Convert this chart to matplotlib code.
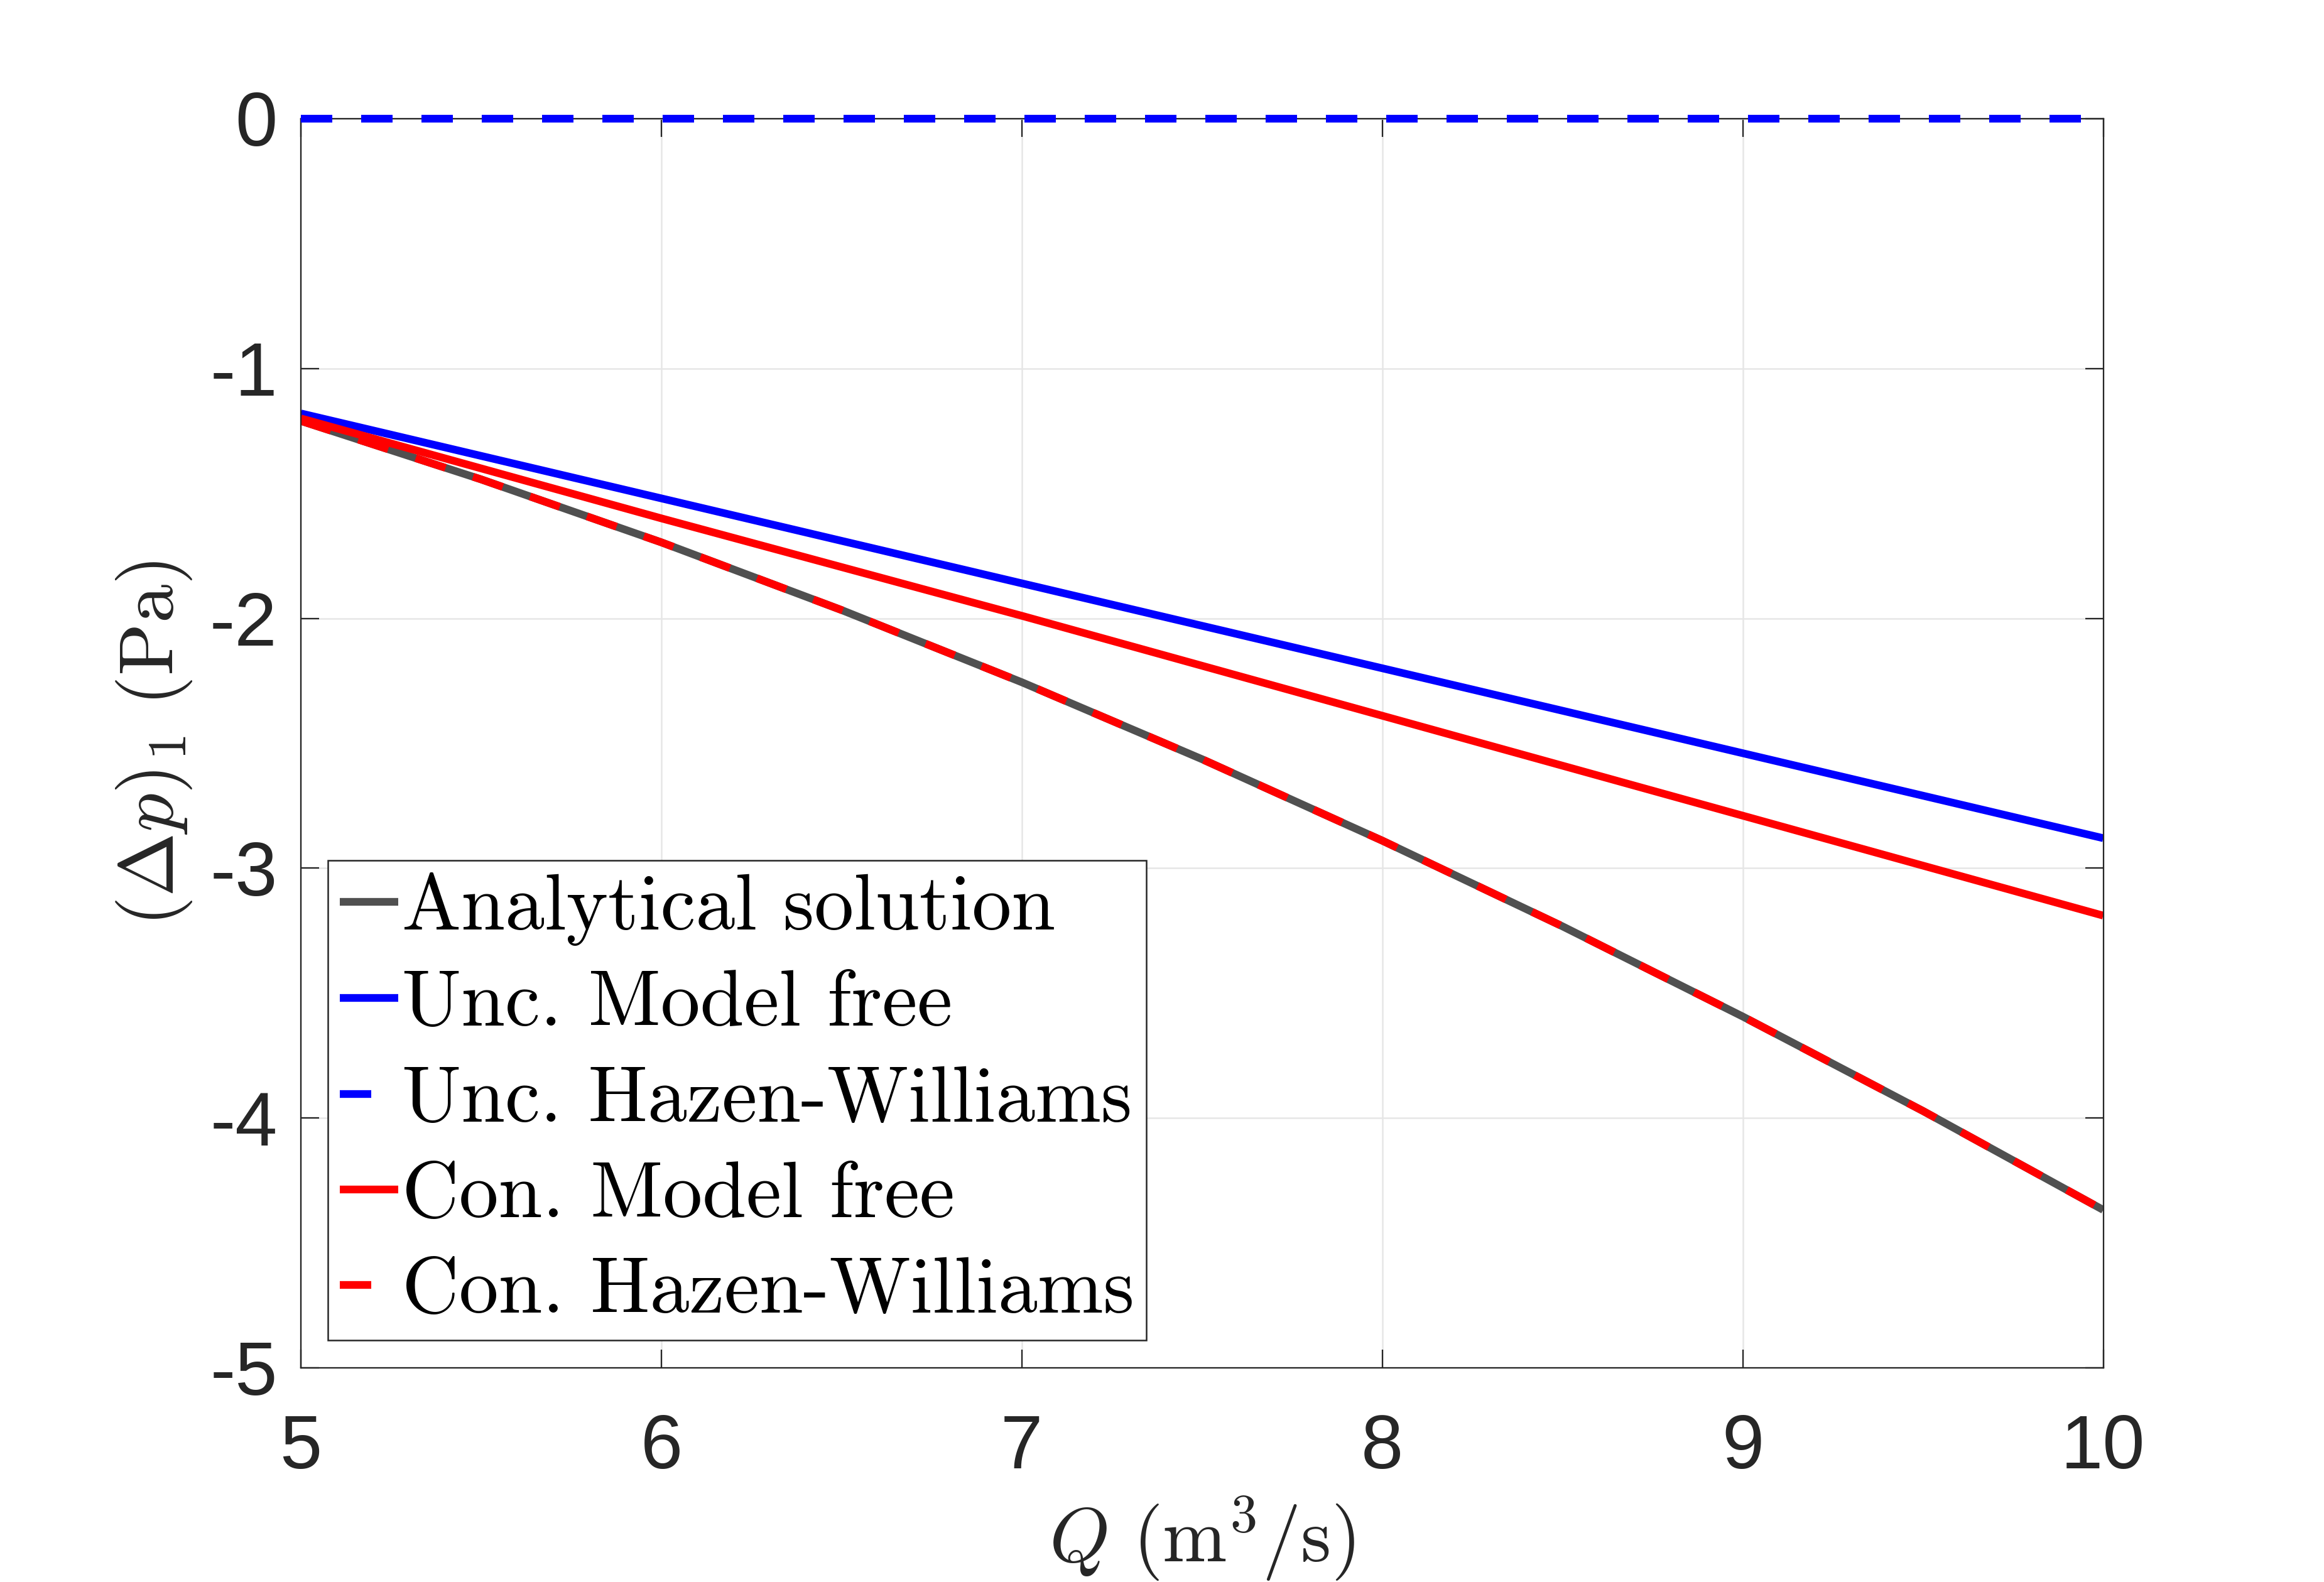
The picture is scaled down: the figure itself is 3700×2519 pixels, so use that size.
import numpy as np
import matplotlib
matplotlib.use("Agg")
import matplotlib.pyplot as plt

plt.rcParams['mathtext.fontset'] = 'cm'
plt.rcParams['axes.unicode_minus'] = False
plt.rcParams['font.family'] = ['Liberation Sans', 'DejaVu Sans']

# Data
Q_curve = [5.0, 5.5, 6.0, 6.5, 7.0, 7.5, 8.0, 8.5, 9.0, 9.5, 10.0]
dp_analytical = [-1.21, -1.444, -1.696, -1.967, -2.256, -2.564, -2.890, -3.233, -3.594, -3.972, -4.368]
dp_con_hw = dp_analytical  # overlaps analytical solution

Q_lin = [5, 6, 7, 8, 9, 10]
dp_unc_mf = [-1.18, -1.52, -1.86, -2.20, -2.54, -2.88]
dp_con_mf = [-1.20, -1.60, -1.99, -2.39, -2.79, -3.19]
dp_unc_hw = [0, 0, 0, 0, 0, 0]

labels = ['Analytical solution', 'Unc. Model free', 'Unc. Hazen-Williams',
          'Con. Model free', 'Con. Hazen-Williams']

gray = '#505050'
blue = '#0000ff'
red = '#ff0000'
axcol = '#262626'
lw = 2.95
dashed = (0, (4.07, 3.74))

fig = plt.figure(figsize=(3700/300, 2519/300), dpi=300)
ax = fig.add_axes([0.1295, 0.1354, 0.905 - 0.1295, 0.925 - 0.1354])

ax.plot(Q_curve, dp_analytical, color=gray, lw=lw, label=labels[0], solid_capstyle='butt')
ax.plot(Q_lin, dp_unc_mf, color=blue, lw=lw, label=labels[1], solid_capstyle='butt')
ax.plot(Q_lin, dp_unc_hw, color=blue, lw=lw, linestyle=dashed, label=labels[2],
        clip_on=False, zorder=3, dash_capstyle='butt')
ax.plot(Q_lin, dp_con_mf, color=red, lw=lw, label=labels[3], solid_capstyle='butt')
ax.plot(Q_curve, dp_con_hw, color=red, lw=lw, linestyle=dashed, label=labels[4],
        dash_capstyle='butt')

ax.set_xlim(5, 10)
ax.set_ylim(-5, 0)
ax.set_xticks([5, 6, 7, 8, 9, 10])
ax.set_yticks([-5, -4, -3, -2, -1, 0])

ax.grid(True, color='#e6e6e6', lw=0.6)
ax.set_axisbelow(True)
for s in ax.spines.values():
    s.set_color(axcol)
    s.set_linewidth(0.55)
ax.tick_params(direction='in', length=7, width=0.55, color=axcol, labelcolor=axcol,
               labelsize=29, top=True, right=True)
ax.tick_params(axis='y', pad=9)
ax.tick_params(axis='x', pad=17.5)

ax.set_xlabel(r'$Q\ (\mathrm{m}^3/\mathrm{s})$', fontsize=29.5, color=axcol, labelpad=4)
ax.set_ylabel(r'$(\Delta p)_1\ (\mathrm{Pa})$', fontsize=29.5, color=axcol, labelpad=6)

leg = ax.legend(loc='lower left', bbox_to_anchor=(0.015, 0.022), borderaxespad=0,
                prop={'family': 'cmr10', 'size': 30.2}, handlelength=0.74,
                handletextpad=0.05, labelspacing=0.31, borderpad=0.15,
                fancybox=False, framealpha=1, edgecolor=axcol)
leg.get_frame().set_linewidth(0.6)

fig.savefig('out.png', dpi=300)
